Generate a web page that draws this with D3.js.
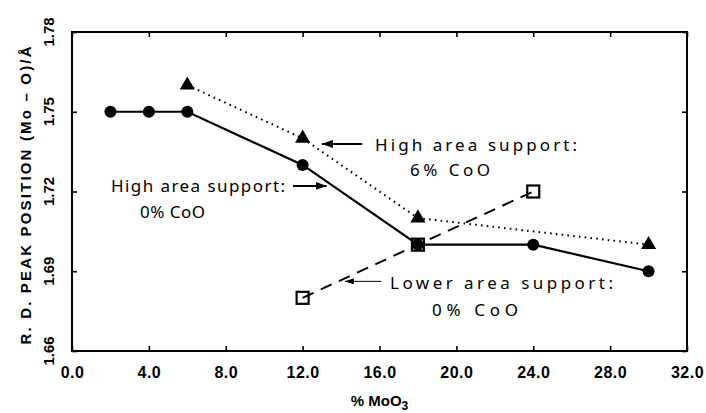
<!DOCTYPE html>
<html>
<head>
<meta charset="utf-8">
<script src="https://cdn.jsdelivr.net/npm/d3@7"></script>
<style>
  html, body { margin: 0; padding: 0; background: #fff; }
  svg { display: block; }
</style>
</head>
<body>
<svg id="chart" width="706" height="413"></svg>
<script>
// Mo–O radial distribution peak position vs. MoO3 loading
const highArea0Co_x = [2, 4, 6, 12, 18, 24, 30];
const highArea0Co_y = [1.75, 1.75, 1.75, 1.73, 1.70, 1.70, 1.69];

const highArea6Co_x = [6, 12, 18, 30];
const highArea6Co_y = [1.76, 1.74, 1.71, 1.70];

const lowArea0Co_x = [12, 18, 24];
const lowArea0Co_y = [1.68, 1.70, 1.72];

const xTicks = [0, 4, 8, 12, 16, 20, 24, 28, 32];
const yTicks = [1.66, 1.69, 1.72, 1.75, 1.78];

const svg = d3.select("#chart");
const plot = { left: 72, right: 687, top: 32, bottom: 351 };

const x = d3.scaleLinear().domain([0, 32]).range([plot.left, plot.right]);
const y = d3.scaleLinear().domain([1.66, 1.78]).range([plot.bottom, plot.top]);

const ink = "#000";
const tickFont = "'Liberation Sans', Arial, sans-serif";
const noteFont = "'Noto Sans', 'DejaVu Sans', sans-serif";

// frame
svg.append("rect")
  .attr("x", plot.left).attr("y", plot.top)
  .attr("width", plot.right - plot.left).attr("height", plot.bottom - plot.top)
  .attr("fill", "none").attr("stroke", ink).attr("stroke-width", 2);

// inward ticks on all four sides
const tickLen = 5;
function styleTicks(g) {
  g.select(".domain").remove();
  g.selectAll("line").attr("stroke", ink).attr("stroke-width", 1.6);
}
const axB = d3.axisBottom(x).tickValues(xTicks).tickSize(-tickLen).tickPadding(16)
  .tickFormat(d3.format(".1f"));
const gB = svg.append("g").attr("transform", `translate(0,${plot.bottom})`).call(axB);
styleTicks(gB);
gB.selectAll("text")
  .attr("font-family", tickFont).attr("font-weight", "bold")
  .attr("font-size", 16).attr("letter-spacing", 0.5).attr("fill", ink);

styleTicks(svg.append("g").attr("transform", `translate(0,${plot.top})`)
  .call(d3.axisTop(x).tickValues(xTicks).tickSize(-tickLen).tickFormat("")));
styleTicks(svg.append("g").attr("transform", `translate(${plot.left},0)`)
  .call(d3.axisLeft(y).tickValues(yTicks).tickSize(-tickLen).tickFormat("")));
styleTicks(svg.append("g").attr("transform", `translate(${plot.right},0)`)
  .call(d3.axisRight(y).tickValues(yTicks).tickSize(-tickLen).tickFormat("")));

// rotated y tick labels
svg.append("g").selectAll("text").data(yTicks).join("text")
  .attr("transform", d => `translate(54,${y(d)}) rotate(-90)`)
  .attr("text-anchor", "middle")
  .attr("font-family", tickFont).attr("font-weight", "bold")
  .attr("font-size", 15).attr("fill", ink)
  .text(d => d3.format(".2f")(d));

// axis titles
svg.append("text")
  .attr("transform", `translate(31,${(plot.top + plot.bottom) / 2 + 4}) rotate(-90)`)
  .attr("text-anchor", "middle")
  .attr("font-family", tickFont).attr("font-weight", "bold")
  .attr("font-size", 15).attr("fill", ink)
  .attr("textLength", 298).attr("lengthAdjust", "spacing")
  .text("R.  D.  PEAK  POSITION  (Mo – O)/Å");

const xTitle = svg.append("text")
  .attr("x", (plot.left + plot.right) / 2).attr("y", 406)
  .attr("text-anchor", "middle")
  .attr("font-family", tickFont).attr("font-weight", "bold")
  .attr("font-size", 15).attr("fill", ink);
xTitle.append("tspan").text("% MoO");
xTitle.append("tspan").attr("dy", 4).attr("font-size", 12).text("3");

// series lines
const zip = (xs, ys) => xs.map((v, i) => [v, ys[i]]);
const line = d3.line().x(d => x(d[0])).y(d => y(d[1]));

const s0 = zip(highArea0Co_x, highArea0Co_y);
const s6 = zip(highArea6Co_x, highArea6Co_y);
const sL = zip(lowArea0Co_x, lowArea0Co_y);

svg.append("path").datum(s6).attr("d", line)
  .attr("fill", "none").attr("stroke", ink).attr("stroke-width", 2)
  .attr("stroke-dasharray", "1.6 4.2");

svg.append("path").datum(sL).attr("d", line)
  .attr("fill", "none").attr("stroke", ink).attr("stroke-width", 2)
  .attr("stroke-dasharray", "12 8");

svg.append("path").datum(s0).attr("d", line)
  .attr("fill", "none").attr("stroke", ink).attr("stroke-width", 2.2);

// markers
svg.append("g").selectAll("circle").data(s0).join("circle")
  .attr("cx", d => x(d[0])).attr("cy", d => y(d[1])).attr("r", 6)
  .attr("fill", ink);

const tri = d3.symbol().type(d3.symbolTriangle).size(100);
svg.append("g").selectAll("path").data(s6).join("path")
  .attr("transform", d => `translate(${x(d[0])},${y(d[1])})`)
  .attr("d", tri).attr("fill", ink);

svg.append("g").selectAll("rect").data(sL).join("rect")
  .attr("x", d => x(d[0]) - 6).attr("y", d => y(d[1]) - 6)
  .attr("width", 12).attr("height", 12)
  .attr("fill", "none").attr("stroke", ink).attr("stroke-width", 2.2);

// annotations with arrows
const defs = svg.append("defs");
function head(id, w, h) {
  defs.append("marker").attr("id", id)
    .attr("viewBox", `0 0 ${w} ${h}`).attr("refX", w).attr("refY", h / 2)
    .attr("markerWidth", w).attr("markerHeight", h)
    .attr("markerUnits", "userSpaceOnUse").attr("orient", "auto")
    .append("path").attr("d", `M0,0L${w},${h / 2}L0,${h}Z`).attr("fill", ink);
}
head("headBig", 11, 8);
head("headSmall", 9, 6);

function arrow(x1, y1, x2, y2, width, markerId) {
  svg.append("line")
    .attr("x1", x(x1)).attr("y1", y(y1)).attr("x2", x(x2)).attr("y2", y(y2))
    .attr("stroke", ink).attr("stroke-width", width)
    .attr("marker-end", `url(#${markerId})`);
}
function note(lines) {
  lines.forEach(l => {
    svg.append("text")
      .attr("x", l.x).attr("y", l.y)
      .attr("font-family", noteFont).attr("font-size", 17).attr("fill", ink)
      .attr("textLength", l.w).attr("lengthAdjust", "spacing")
      .text(l.t);
  });
}

arrow(15.1, 1.7379, 13.0, 1.7379, 2, "headBig");
note([
  { t: "High area support:", x: 375, y: 151, w: 202 },
  { t: "6% CoO", x: 410, y: 176, w: 80 }
]);

arrow(11.5, 1.7221, 13.25, 1.7221, 2, "headBig");
note([
  { t: "High area support:", x: 111, y: 192, w: 174 },
  { t: "0% CoO", x: 140, y: 218, w: 65 }
]);

arrow(16.1, 1.6862, 14.2, 1.6862, 1, "headSmall");
note([
  { t: "Lower area support:", x: 390, y: 289, w: 223 },
  { t: "0% CoO", x: 432, y: 316, w: 86 }
]);
</script>
</body>
</html>
